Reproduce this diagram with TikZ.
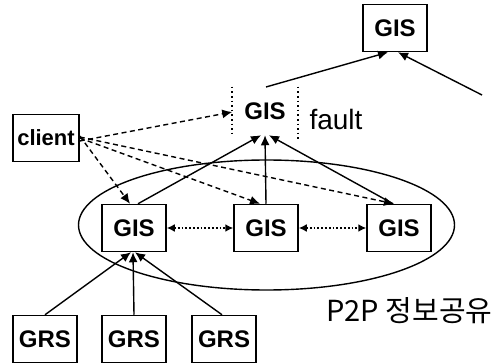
\documentclass[tikz,border=0pt]{standalone}
\usepackage{fontspec}
\setmainfont{Liberation Sans}
\newfontfamily\krfont{Noto Sans CJK KR}
\usetikzlibrary{arrows.meta}
\begin{document}
\begin{tikzpicture}[x=1pt,y=-1pt,
 box/.style={draw,line width=1.5pt,minimum width=64pt,minimum height=47pt,inner sep=0pt,font=\fontsize{24}{24}\selectfont\bfseries},
 sol/.style={line width=1.4pt,-{Latex[length=10pt,width=9pt]}},
 dsh/.style={line width=1.4pt,dash pattern=on 5pt off 3.5pt,-{Latex[length=10pt,width=9pt]}},
 dotar/.style={line width=1.8pt,dash pattern=on 1.8pt off 2pt,{Latex[length=8pt,width=8pt]}-{Latex[length=8pt,width=8pt]}},
 side/.style={line width=1.6pt,dash pattern=on 1.6pt off 3pt}
]
\useasboundingbox (0,0) rectangle (497,363);
% nodes
\node[box] (top) at (395,28) {GIS};
\node[box,draw=none] (fault) at (265,111) {GIS};
\node[font=\fontsize{28}{28}\selectfont,anchor=base west] (flt) at (306,130) {fault};
\node[box,minimum width=66pt,font=\fontsize{22}{22}\selectfont\bfseries] (client) at (46,138) {client};
\node[box] (gisL) at (134,228) {GIS};
\node[box] (gisM) at (266,228) {GIS};
\node[box] (gisR) at (399,228) {GIS};
\node[box] (grs1) at (45,339) {GRS};
\node[box] (grs2) at (134,339) {GRS};
\node[box] (grs3) at (224,339) {GRS};
\node[font=\krfont\fontsize{29}{29}\selectfont,anchor=base west] (p2p) at (323,321) {P2P 정보공유};
% ellipse
\draw[line width=1.4pt] (266.5,225) ellipse [x radius=188, y radius=65];
% fault GIS dotted sides
\draw[side] (fault.north west) -- (fault.south west);
\draw[side] (fault.north east) -- ([yshift=-5pt]fault.south east);
% arrows to top GIS
\coordinate (a1) at (266,87);
\coordinate (a2) at (482,95);
\draw[sol] (a1) -- ([xshift=-7pt]top.south);
\draw[sol] (a2) -- ([xshift=3pt]top.south);
% GIS peers to fault GIS
\draw[sol] ([xshift=4pt]gisL.north) -- ([xshift=-4pt]fault.south);
\draw[sol] (gisM.north) -- ([xshift=0pt]fault.south);
\draw[sol] ([xshift=-6pt]gisR.north) -- ([xshift=4pt]fault.south);
% client dashed arrows
\draw[dsh] ([yshift=-3pt]client.east) -- ([yshift=-1pt]fault.west);
\draw[dsh] ([yshift=2pt]client.east) -- ([xshift=-4pt]gisL.north);
\draw[dsh] ([yshift=0pt]client.east) -- ([xshift=-6pt]gisM.north);
\draw[dsh] ([yshift=1pt]client.east) -- ([xshift=-5pt]gisR.north);
% peer exchange
\draw[dotar] (gisL.east) -- (gisM.west);
\draw[dotar] (gisM.east) -- (gisR.west);
% GRS to GIS
\draw[sol] (grs1.north) -- ([xshift=-3pt]gisL.south);
\draw[sol] (grs2.north) -- ([xshift=-1pt]gisL.south);
\draw[sol] ([xshift=-2pt]grs3.north) -- ([xshift=1pt]gisL.south);
\end{tikzpicture}
\end{document}
